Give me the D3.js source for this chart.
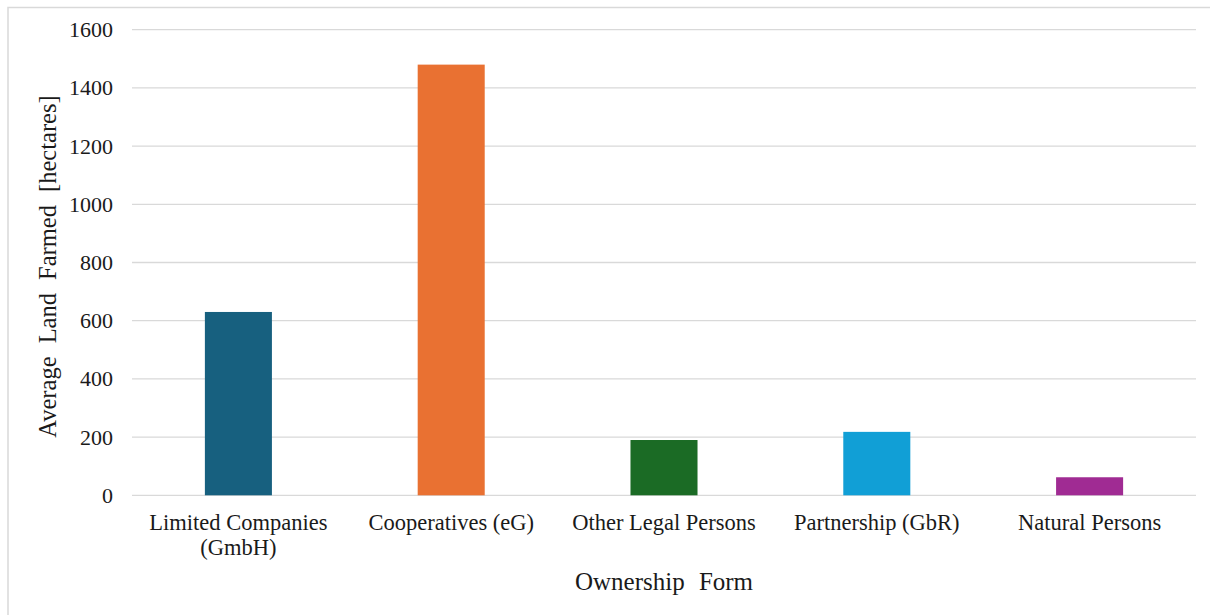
<!DOCTYPE html>
<html>
<head>
<meta charset="utf-8">
<script src="https://cdn.jsdelivr.net/npm/d3@7"></script>
<style>
  html, body { margin: 0; padding: 0; background: #fff; }
  svg { display: block; }
</style>
</head>
<body>
<svg id="chart" width="1210" height="615"></svg>
<script>
// Average land farmed per holding, by ownership form
const categories = [
  ["Limited Companies", "(GmbH)"],
  ["Cooperatives (eG)"],
  ["Other Legal Persons"],
  ["Partnership (GbR)"],
  ["Natural Persons"]
];
const values = [630, 1480, 190, 218, 62];
const colors = ["#17607f", "#e97132", "#1b6b25", "#119fd6", "#a02b93"];
const yTicks = [0, 200, 400, 600, 800, 1000, 1200, 1400, 1600];

const FONT = '"Liberation Serif"';
const INK = "#1a1a1a";

const svg = d3.select("#chart");
const margin = { left: 132, right: 14, top: 29.7, bottom: 119.7 };
const W = 1210, H = 615;

// outer chart frame
svg.append("rect")
  .attr("x", 8).attr("y", 7.5)
  .attr("width", 1210).attr("height", 620)
  .attr("fill", "none").attr("stroke", "#d9d9d9").attr("stroke-width", 1.5);

const x = d3.scaleBand()
  .domain(d3.range(categories.length))
  .range([margin.left, W - margin.right])
  .paddingInner(0.685).paddingOuter(0.3425);

const y = d3.scaleLinear()
  .domain([0, 1600])
  .range([H - margin.bottom, margin.top]);

// horizontal gridlines
svg.append("g")
  .selectAll("line")
  .data(yTicks)
  .join("line")
  .attr("x1", margin.left).attr("x2", W - margin.right)
  .attr("y1", d => y(d)).attr("y2", d => y(d))
  .attr("stroke", "#d9d9d9").attr("stroke-width", 1.3);

// y axis tick labels
const yAxis = d3.axisLeft(y).tickValues(yTicks).tickFormat(d3.format("d")).tickSize(0).tickPadding(19);
const gy = svg.append("g").attr("transform", `translate(${margin.left},0)`).call(yAxis);
gy.attr("font-family", null).attr("font-size", null);
gy.select(".domain").remove();
gy.selectAll("text")
  .style("font-family", FONT)
  .style("font-size", "22px")
  .attr("fill", INK);

// bars
svg.append("g")
  .selectAll("rect")
  .data(values)
  .join("rect")
  .attr("x", (d, i) => x(i))
  .attr("width", x.bandwidth())
  .attr("y", d => y(d))
  .attr("height", d => y(0) - y(d))
  .attr("fill", (d, i) => colors[i]);

// category labels
const xl = svg.append("g")
  .selectAll("text")
  .data(categories)
  .join("text")
  .style("font-family", FONT)
  .style("font-size", "22.5px")
  .attr("fill", INK)
  .attr("text-anchor", "middle")
  .attr("transform", (d, i) => `translate(${x(i) + x.bandwidth() / 2},530)`);
xl.selectAll("tspan")
  .data(d => d)
  .join("tspan")
  .attr("x", 0)
  .attr("dy", (d, i) => i === 0 ? 0 : 25)
  .text(d => d);

// axis titles
svg.append("text")
  .style("font-family", FONT)
  .style("font-size", "25px")
  .style("word-spacing", "8px")
  .attr("fill", INK)
  .attr("text-anchor", "middle")
  .attr("x", (margin.left + W - margin.right) / 2)
  .attr("y", 590)
  .text("Ownership Form");

svg.append("text")
  .style("font-family", FONT)
  .style("font-size", "24.5px")
  .style("word-spacing", "7px")
  .attr("fill", INK)
  .attr("text-anchor", "middle")
  .attr("transform", `translate(56,${(y(0) + y(1600)) / 2 + 4}) rotate(-90)`)
  .text("Average Land Farmed [hectares]");
</script>
</body>
</html>
